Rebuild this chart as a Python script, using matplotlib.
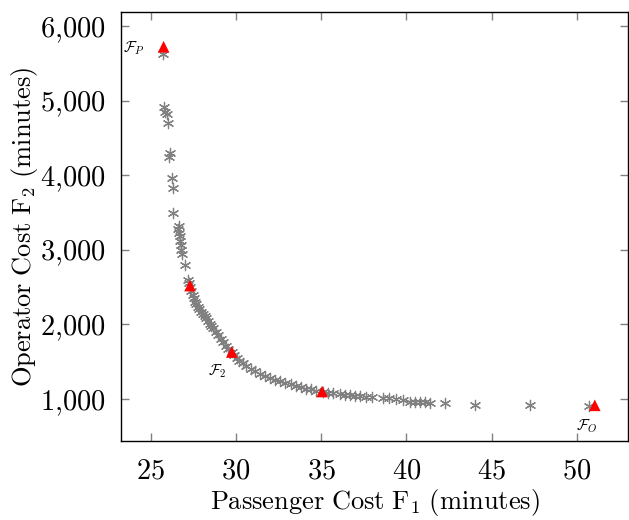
import matplotlib
matplotlib.use("Agg")
import matplotlib.pyplot as plt
from matplotlib.ticker import FuncFormatter

# pareto front (gray asterisks)
f1 = [25.70, 25.76, 25.82, 25.94, 26.00, 26.11, 26.06, 26.23, 26.29, 26.29,
      26.64, 26.62, 26.68, 26.70, 26.74, 26.78, 26.80, 26.85, 27.00, 27.20,
      27.26, 27.32, 27.38, 27.45, 27.52, 27.60, 27.68, 27.75, 27.85, 27.95,
      28.05, 28.15, 28.25, 28.35, 28.46, 28.55, 28.65, 28.80, 28.95, 29.10,
      29.25, 29.40, 29.55, 29.75, 29.90, 30.05, 30.20, 30.40, 30.60, 30.85,
      31.10, 31.40, 31.70, 32.00, 32.30, 32.60, 32.90, 33.20, 33.50, 33.80,
      34.10, 34.40, 34.70, 35.10, 35.40, 35.70, 36.10, 36.40, 36.70, 37.00,
      37.30, 37.60, 38.00, 38.60, 39.00, 39.40, 39.80, 40.20, 40.50, 40.80,
      41.10, 41.40, 42.25, 44.00, 47.24, 50.70]
f2 = [5625, 4914, 4847, 4820, 4700, 4298, 4244, 3962, 3828, 3493,
      3319, 3280, 3230, 3180, 3120, 3060, 3000, 2950, 2800, 2600,
      2560, 2500, 2450, 2400, 2350, 2300, 2270, 2240, 2200, 2170,
      2140, 2110, 2080, 2040, 2010, 1980, 1950, 1900, 1860, 1810,
      1760, 1710, 1670, 1630, 1590, 1550, 1510, 1480, 1440, 1400,
      1370, 1330, 1310, 1280, 1260, 1240, 1220, 1200, 1180, 1160,
      1140, 1130, 1110, 1094, 1085, 1080, 1070, 1060, 1050, 1045,
      1040, 1030, 1025, 1013, 1010, 1000, 990, 965, 960, 955,
      955, 950, 946, 920, 920, 906]

# highlighted solutions (red triangles)
sel_f1 = [25.75, 27.30, 29.75, 35.05, 51.05]
sel_f2 = [5722, 2520, 1630, 1100, 915]

plt.rcParams['mathtext.fontset'] = 'cm'

fig = plt.figure(figsize=(6.29, 5.2), dpi=100)
ax = fig.add_axes([121/629, 79/520, 507/629, 429/520])

ax.scatter(f1, f2, marker=(6, 2, 0), s=55, color='gray', linewidths=0.9, zorder=2)
ax.scatter(sel_f1, sel_f2, marker='^', s=70, color='red', edgecolors='none', zorder=3)

ax.text(24.0, 5700, r'$\mathcal{F}_P$', fontsize=11, ha='center', va='center')
ax.text(28.9, 1370, r'$\mathcal{F}_2$', fontsize=11, ha='center', va='center')
ax.text(50.6, 640, r'$\mathcal{F}_O$', fontsize=11, ha='center', va='center')

ax.set_xlim(23.25, 53.0)
ax.set_ylim(437, 6188)
ax.set_xticks([25, 30, 35, 40, 45, 50])
ax.set_yticks([1000, 2000, 3000, 4000, 5000, 6000])
ax.xaxis.set_major_formatter(FuncFormatter(lambda v, p: r'$%d$' % v))
ax.yaxis.set_major_formatter(FuncFormatter(lambda v, p: r'$%d{,}%03d$' % (v // 1000, v % 1000)))
ax.tick_params(direction='in', length=6, width=1.0, color='gray',
               top=True, right=True, labelsize=20.5, pad=11)
for s in ax.spines.values():
    s.set_linewidth(1.0)

ax.set_xlabel(r'$\mathrm{Passenger\ Cost\ F_1\ (minutes)}$', fontsize=19, labelpad=2)
ax.set_ylabel(r'$\mathrm{Operator\ Cost\ F_2\ (minutes)}$', fontsize=19, labelpad=0)

fig.savefig('out.png', dpi=100)
